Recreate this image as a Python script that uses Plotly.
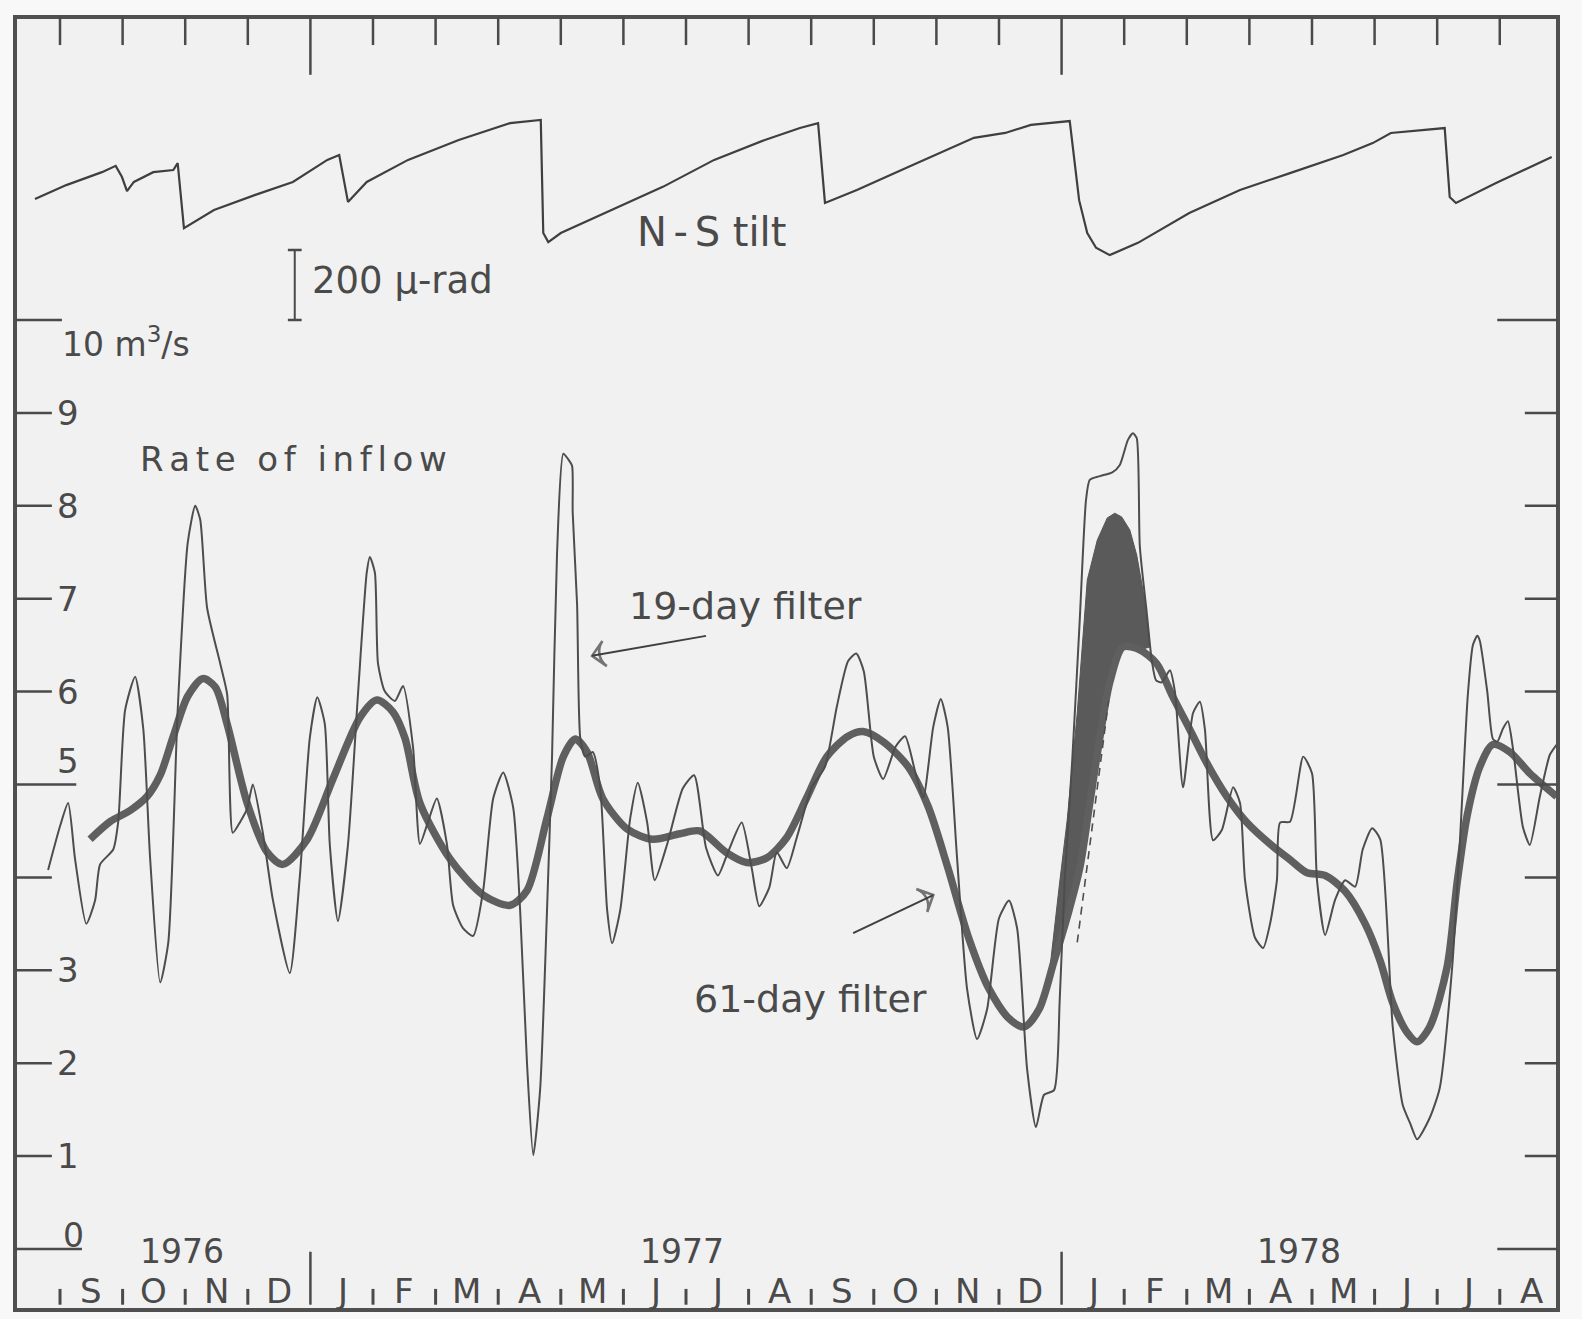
import plotly.graph_objects as go

# ---------------- data (time in months since 1 Sep 1976) ----------------
months = ["S", "O", "N", "D", "J", "F", "M", "A", "M", "J", "J", "A",
          "S", "O", "N", "D", "J", "F", "M", "A", "M", "J", "J", "A"]
years = ["1976", "1977", "1978"]
year_pos = [1.95, 9.94, 19.79]
year_start = [4, 16]

# N-S tilt (micro-radians, arbitrary zero)
tilt_t = [-0.40, 0.10, 0.67, 0.89, 0.99, 1.07, 1.18, 1.49, 1.81, 1.88, 1.98, 2.46, 3.12,
          3.72, 4.27, 4.46, 4.60, 4.90, 5.56, 6.37, 7.19, 7.68, 7.72, 7.80, 8.00, 8.82,
          9.63, 10.45, 11.26, 11.82, 12.11, 12.22, 12.73, 13.55, 14.60, 15.10, 15.51,
          16.13, 16.28, 16.41, 16.55, 16.77, 17.22, 18.04, 18.85, 19.66, 20.50, 20.97,
          21.26, 22.12, 22.20, 22.30, 22.94, 23.83]
tilt_urad = [174, 214, 251, 269, 237, 197, 223, 251, 257, 277, 91, 143, 186,
             223, 286, 300, 166, 223, 286, 343, 391, 400, 77, 51, 77, 143,
             209, 286, 343, 377, 391, 163, 200, 266, 349, 363, 386,
             397, 171, 77, 35, 14, 49, 134, 200, 249, 300, 334,
             363, 377, 180, 163, 220, 294]

# rate of inflow, 19-day filter (m3/s)
inflow_t = [-0.19, 0.00, 0.13, 0.24, 0.42, 0.56, 0.64, 0.85, 0.93, 1.04, 1.20, 1.33, 1.44,
            1.60, 1.73, 1.88, 2.04, 2.16, 2.24, 2.35, 2.56, 2.67, 2.76, 2.88, 2.99, 3.08,
            3.24, 3.40, 3.67, 3.83, 3.99, 4.11, 4.23, 4.31, 4.44, 4.60, 4.76, 4.90, 4.95,
            5.03, 5.08, 5.19, 5.35, 5.48, 5.64, 5.75, 5.88, 6.02, 6.18, 6.28, 6.44, 6.60,
            6.76, 6.92, 7.08, 7.24, 7.35, 7.46, 7.56, 7.67, 7.78, 7.86, 7.94, 8.04, 8.12,
            8.18, 8.19, 8.26, 8.31, 8.39, 8.51, 8.63, 8.74, 8.82, 8.95, 9.11, 9.23, 9.38,
            9.50, 9.70, 9.95, 10.13, 10.32, 10.51, 10.67, 10.89, 11.05, 11.17, 11.33,
            11.45, 11.61, 11.77, 12.01, 12.22, 12.41, 12.59, 12.72, 12.84, 13.00, 13.15,
            13.35, 13.50, 13.66, 13.79, 13.95, 14.07, 14.18, 14.33, 14.49, 14.65, 14.81,
            15.00, 15.16, 15.29, 15.45, 15.59, 15.72, 15.88, 15.97, 16.05, 16.17, 16.29,
            16.39, 16.45, 16.61, 16.81, 16.93, 17.06, 17.14, 17.20, 17.25, 17.36, 17.44,
            17.51, 17.60, 17.73, 17.81, 17.94, 18.10, 18.21, 18.29, 18.42, 18.56, 18.74,
            18.85, 18.93, 19.09, 19.22, 19.33, 19.44, 19.49, 19.65, 19.86, 20.00, 20.08,
            20.21, 20.37, 20.53, 20.69, 20.81, 20.96, 21.09, 21.29, 21.45, 21.57, 21.68,
            21.88, 22.04, 22.24, 22.36, 22.49, 22.57, 22.64, 22.68, 22.80, 22.89, 22.96,
            23.05, 23.13, 23.21, 23.37, 23.48, 23.64, 23.80, 23.91]
inflow_19 = [4.08, 4.55, 4.80, 4.20, 3.50, 3.75, 4.14, 4.30, 4.60, 5.80, 6.16, 5.60, 4.20,
             2.87, 3.30, 5.80, 7.60, 8.00, 7.85, 6.90, 6.30, 5.97, 4.48, 4.60, 4.74, 5.00,
             4.48, 3.76, 2.97, 4.00, 5.50, 5.94, 5.65, 4.35, 3.53, 4.35, 5.97, 7.28, 7.45,
             7.28, 6.30, 6.00, 5.90, 6.06, 5.40, 4.36, 4.60, 4.85, 4.36, 3.70, 3.45, 3.37,
             3.86, 4.85, 5.13, 4.75, 3.65, 2.00, 1.01, 1.72, 3.65, 5.30, 7.49, 8.56, 8.50,
             8.43, 7.93, 6.94, 5.51, 5.30, 5.35, 4.96, 3.65, 3.29, 3.65, 4.64, 5.02, 4.59,
             3.97, 4.36, 4.96, 5.10, 4.32, 4.02, 4.27, 4.59, 4.10, 3.69, 3.89,
             4.27, 4.10, 4.43, 4.97, 5.19, 5.84, 6.33, 6.41, 6.22, 5.30, 5.06,
             5.41, 5.52, 5.14, 4.86, 5.62, 5.92, 5.62, 4.21, 2.80, 2.26, 2.58,
             3.56, 3.75, 3.45, 1.93, 1.31, 1.66, 1.71, 2.68, 3.97, 5.26, 6.77,
             8.06, 8.28, 8.32, 8.36, 8.44, 8.71, 8.78, 8.73, 7.56, 6.85, 6.34,
             6.12, 6.10, 6.23, 6.00, 4.97, 5.77, 5.89, 5.59, 4.40, 4.51, 4.97,
             4.80, 3.97, 3.35, 3.24, 3.50, 3.97, 4.59, 4.60, 5.30, 5.12, 3.97,
             3.38, 3.76, 3.97, 3.90, 4.30, 4.53, 4.41, 2.39, 1.55, 1.35, 1.18,
             1.41, 1.73, 3.04, 4.35, 5.97, 6.50, 6.60, 6.55, 6.00, 5.49, 5.46,
             5.60, 5.68, 5.39, 4.54, 4.35, 4.87, 5.32, 5.43]

# 61-day filter (m3/s)
f61_t = [0.48, 0.80, 1.12, 1.39, 1.60, 1.81, 2.04, 2.28, 2.48, 2.67, 2.99, 3.31, 3.56,
         3.95, 4.36, 4.79, 5.06, 5.32, 5.51, 5.75, 6.23, 6.76, 7.19, 7.46, 7.78, 8.04,
         8.23, 8.42, 8.67, 9.06, 9.47, 9.90, 10.22, 10.64, 10.97, 11.29, 11.61, 11.93,
         12.25, 12.59, 12.83, 13.15, 13.55, 13.87, 14.18, 14.52, 14.84, 15.16, 15.40,
         15.64, 15.88, 16.10, 16.29, 16.45, 16.61, 16.77, 16.98, 17.25, 17.52, 17.78,
         18.05, 18.32, 18.64, 18.96, 19.38, 19.65, 19.92, 20.21, 20.53, 20.85, 21.09,
         21.29, 21.52, 21.68, 21.88, 22.16, 22.32, 22.48, 22.68, 22.89, 23.16, 23.48, 23.91]
f61 = [4.41, 4.60, 4.72, 4.87, 5.10, 5.52, 5.95, 6.14, 6.05, 5.65, 4.80, 4.27, 4.14,
       4.41, 5.06, 5.72, 5.91, 5.78, 5.50, 4.80, 4.20, 3.81, 3.70, 3.86, 4.64, 5.30,
       5.49, 5.35, 4.85, 4.52, 4.41, 4.47, 4.50, 4.27, 4.16, 4.21, 4.43, 4.86,
       5.30, 5.52, 5.57, 5.46, 5.19, 4.76, 4.11, 3.34, 2.80, 2.48, 2.39,
       2.58, 3.10, 3.60, 4.10, 4.80, 5.50, 6.10, 6.48, 6.45, 6.30, 5.94,
       5.59, 5.23, 4.87, 4.59, 4.33, 4.19, 4.05, 4.02, 3.85, 3.50, 3.10,
       2.65, 2.33, 2.23, 2.39, 3.04, 3.95, 4.67, 5.19, 5.43, 5.35, 5.12, 4.87]

# heavy ink band of the 61-day filter in January 1978
band_t = [15.81, 15.89, 15.97, 16.09, 16.25, 16.41, 16.57, 16.73, 16.85, 16.96, 17.09,
          17.20, 17.30, 17.38, 17.41, 17.25, 16.98, 16.77, 16.61, 16.45, 16.29, 16.10, 15.94]
band_v = [3.00, 3.50, 3.95, 4.62, 5.77, 7.20, 7.63, 7.87, 7.92, 7.88, 7.74,
          7.47, 7.09, 6.72, 6.48, 6.45, 6.48, 6.10, 5.50, 4.80, 4.10, 3.60, 3.20]

dash_t = [16.25, 16.75]
dash_v = [3.30, 5.90]

ytick_vals = list(range(11))
ytick_text = ["0", "1", "2", "3", "", "5", "6", "7", "8", "9", ""]

# ---------------- figure ----------------
INK = "#4a4a4a"
FONT = "DejaVu Sans"
XR = [-0.719, 23.93]
YR = [-0.657, 13.262]
Y2R = [-3000, 694.3]

fig = go.Figure()

fig.add_trace(go.Scatter(x=tilt_t, y=tilt_urad, yaxis="y2", mode="lines",
                         line=dict(color="#3f3f3f", width=2.2), hoverinfo="skip"))
fig.add_trace(go.Scatter(x=band_t, y=band_v, mode="lines", fill="toself",
                         fillcolor="#5a5a5a", line=dict(color="#555", width=1),
                         hoverinfo="skip"))
fig.add_trace(go.Scatter(x=f61_t, y=f61, mode="lines",
                         line=dict(color="#5f5f5f", width=7.5, shape="spline", smoothing=0.8),
                         hoverinfo="skip"))
fig.add_trace(go.Scatter(x=inflow_t, y=inflow_19, mode="lines",
                         line=dict(color="#4d4d4d", width=2, shape="spline", smoothing=0.6),
                         hoverinfo="skip"))
fig.add_trace(go.Scatter(x=dash_t, y=dash_v, mode="lines",
                         line=dict(color="#4d4d4d", width=1.6, dash="8px,6px"),
                         hoverinfo="skip"))

# label arrows (tail -> head)
for ax_, ay_, hx, hy in [(10.32, 6.60, 8.50, 6.385), (12.67, 3.40, 13.95, 3.81)]:
    fig.add_trace(go.Scatter(x=[ax_, hx], y=[ay_, hy], mode="lines+markers",
                             line=dict(color="#3f3f3f", width=2),
                             marker=dict(symbol="arrow-wide-open", size=[1, 18],
                                         angleref="previous", color="#3f3f3f",
                                         line=dict(color="#3f3f3f", width=2.6)),
                             hoverinfo="skip"))

shapes = []
# frame
shapes.append(dict(type="rect", xref="paper", yref="paper", x0=0, x1=1, y0=0, y1=1,
                   line=dict(color="#505050", width=4)))
# left / right y ticks
for v in ytick_vals:
    if v in (0, 10):
        lx = 0.35 if v == 0 else 0.03
    elif v == 5:
        lx = 0.26
    else:
        lx = -0.13
    shapes.append(dict(type="line", x0=XR[0], x1=lx, y0=v, y1=v,
                       line=dict(color=INK, width=2.5)))
    rx = 22.96 if v in (0, 5, 10) else 23.40
    shapes.append(dict(type="line", x0=XR[1], x1=rx, y0=v, y1=v,
                       line=dict(color=INK, width=2.5)))
# month boundary ticks (top and bottom)
for m in range(24):
    long_ = m in year_start
    shapes.append(dict(type="line", x0=m, x1=m, y0=YR[1], y1=(12.64 if long_ else 12.96),
                       line=dict(color=INK, width=2.5)))
    shapes.append(dict(type="line", x0=m, x1=m, y0=-0.60, y1=(-0.03 if long_ else -0.43),
                       line=dict(color=INK, width=(2.5 if long_ else 3))))
# 200 micro-rad scale bar
shapes.append(dict(type="line", x0=3.75, x1=3.75, y0=-171.4, y1=28.6, yref="y2",
                   line=dict(color=INK, width=2)))
for yy in (-171.4, 28.6):
    shapes.append(dict(type="line", x0=3.64, x1=3.86, y0=yy, y1=yy, yref="y2",
                       line=dict(color=INK, width=2.5)))

ann = []
def txt(x, y, s, size, xanchor="center", yanchor="middle"):
    ann.append(dict(x=x, y=y, text=s, showarrow=False, xanchor=xanchor, yanchor=yanchor,
                    font=dict(family=FONT, size=size, color=INK)))

for i, m in enumerate(months):
    txt(i + 0.5, -0.45, m, 34)
for y, p in zip(years, year_pos):
    txt(p, -0.03, y, 33)
for v, s in zip(ytick_vals, ytick_text):
    if s == "":
        continue
    if v == 0:
        txt(0.21, 0.15, s, 33)
    elif v == 5:
        txt(0.13, 5.25, s, 34)
    else:
        txt(0.12, v, s, 34)
txt(0.0, 9.76, "10 m<sup>3</sup>/s", 33, xanchor="left")
thin = "\u2006"
txt(1.25, 8.5, thin.join("Rate") + "  " + thin.join("of") + "  " + thin.join("inflow"), 34,
    xanchor="left")
txt(10.40, 10.95, "N\u2006-\u2006S tilt", 40)
txt(3.99, 10.43, "200 \u03bc-rad", 37, xanchor="left")
txt(9.05, 6.92, "19-day filter", 38, xanchor="left")
txt(10.10, 2.69, "61-day filter", 38, xanchor="left")

fig.update_layout(
    width=1582, height=1319, autosize=False,
    margin=dict(l=15, r=24, t=17, b=9),
    paper_bgcolor="#f8f8f8", plot_bgcolor="#f1f1f1",
    showlegend=False,
    xaxis=dict(range=XR, visible=False, fixedrange=True),
    yaxis=dict(range=YR, visible=False, fixedrange=True),
    yaxis2=dict(range=Y2R, overlaying="y", visible=False, fixedrange=True),
    shapes=shapes, annotations=ann,
)

fig.write_html("out.html")
